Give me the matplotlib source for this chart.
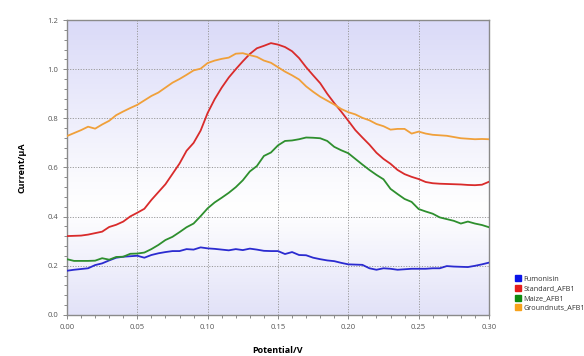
import numpy as np
import matplotlib
matplotlib.use("Agg")
import matplotlib.pyplot as plt
from matplotlib.lines import Line2D
from matplotlib.colors import LinearSegmentedColormap
from matplotlib.ticker import MultipleLocator

plt.rcParams['font.family'] = ['Open Sans', 'DejaVu Sans']

# Potential sweep (V), 5 mV steps
potential = np.round(np.arange(0, 0.3001, 0.005), 3)

fumonisin = [0.180, 0.184, 0.187, 0.190, 0.203, 0.210, 0.222, 0.233, 0.237, 0.239,
             0.241, 0.233, 0.244, 0.251, 0.256, 0.260, 0.260, 0.268, 0.266, 0.275,
             0.271, 0.269, 0.266, 0.263, 0.268, 0.264, 0.270, 0.266, 0.261, 0.260,
             0.260, 0.248, 0.256, 0.244, 0.243, 0.233, 0.227, 0.222, 0.219, 0.212,
             0.206, 0.205, 0.204, 0.190, 0.184, 0.190, 0.188, 0.184, 0.186, 0.188,
             0.188, 0.188, 0.190, 0.190, 0.199, 0.197, 0.196, 0.195, 0.200, 0.206,
             0.213]

standard_afb1 = [0.321, 0.322, 0.323, 0.327, 0.333, 0.339, 0.358, 0.367, 0.380, 0.401,
                 0.416, 0.432, 0.468, 0.500, 0.532, 0.574, 0.616, 0.668, 0.700, 0.750,
                 0.822, 0.878, 0.925, 0.966, 1.000, 1.032, 1.062, 1.085, 1.095, 1.106,
                 1.100, 1.090, 1.073, 1.045, 1.008, 0.975, 0.943, 0.900, 0.862, 0.827,
                 0.790, 0.752, 0.722, 0.693, 0.660, 0.635, 0.615, 0.590, 0.573, 0.562,
                 0.553, 0.541, 0.536, 0.534, 0.533, 0.532, 0.531, 0.529, 0.528, 0.530,
                 0.542]

maize_afb1 = [0.227, 0.220, 0.220, 0.220, 0.221, 0.231, 0.225, 0.236, 0.237, 0.249,
              0.250, 0.254, 0.268, 0.285, 0.305, 0.318, 0.337, 0.357, 0.372, 0.402,
              0.434, 0.458, 0.477, 0.497, 0.520, 0.548, 0.584, 0.606, 0.647, 0.661,
              0.690, 0.708, 0.710, 0.715, 0.722, 0.721, 0.719, 0.708, 0.684, 0.670,
              0.658, 0.635, 0.612, 0.590, 0.570, 0.552, 0.513, 0.492, 0.472, 0.460,
              0.431, 0.421, 0.412, 0.397, 0.390, 0.383, 0.372, 0.380, 0.372, 0.366,
              0.357]

groundnuts_afb1 = [0.728, 0.740, 0.752, 0.766, 0.758, 0.775, 0.790, 0.813, 0.828, 0.842,
                   0.855, 0.873, 0.891, 0.905, 0.925, 0.945, 0.960, 0.977, 0.995, 1.002,
                   1.025, 1.035, 1.042, 1.047, 1.063, 1.065, 1.057, 1.050, 1.035, 1.026,
                   1.008, 0.990, 0.975, 0.958, 0.930, 0.908, 0.888, 0.872, 0.856, 0.838,
                   0.825, 0.816, 0.802, 0.792, 0.777, 0.768, 0.754, 0.757, 0.757, 0.738,
                   0.746, 0.738, 0.733, 0.731, 0.729, 0.724, 0.719, 0.717, 0.715, 0.716,
                   0.715]

series_names = ['Fumonisin', 'Standard_AFB1', 'Maize_AFB1', 'Groundnuts_AFB1']
line_colors = ['#2b2bd0', '#d92b2b', '#2e8f2e', '#f0a03a']
legend_colors = ['#0a14e8', '#e41c1c', '#0f8a0f', '#f7a21b']

fig = plt.figure(figsize=(5.84, 3.56), dpi=100)
ax = fig.add_axes([0.1147, 0.1152, 0.7226, 0.8286])

# Soft lavender background fading to white in the lower middle
bg = LinearSegmentedColormap.from_list(
    'bg', [(0.0, '#e2e2f8'), (0.36, '#ffffff'), (0.45, '#fbfbfe'), (1.0, '#dadaf8')])
grad = np.linspace(0, 1, 256).reshape(-1, 1)
ax.imshow(grad, cmap=bg, aspect='auto', extent=[0, 1, 0, 1],
          transform=ax.transAxes, origin='lower', zorder=0)

for vals, c in zip([fumonisin, standard_afb1, maize_afb1, groundnuts_afb1], line_colors):
    ax.plot(potential, vals, color=c, lw=1.3, zorder=3, solid_joinstyle='round')

ax.set_xlim(0, 0.30)
ax.set_ylim(0, 1.2)
ax.xaxis.set_major_locator(MultipleLocator(0.05))
ax.xaxis.set_minor_locator(MultipleLocator(0.01))
ax.yaxis.set_major_locator(MultipleLocator(0.2))
ax.yaxis.set_minor_locator(MultipleLocator(0.04))
ax.xaxis.set_major_formatter(matplotlib.ticker.FormatStrFormatter('%.2f'))
ax.yaxis.set_major_formatter(matplotlib.ticker.FormatStrFormatter('%.1f'))

ax.grid(which='major', color='#9a9a9a', linestyle=(0, (1.2, 1.5)), lw=0.7, zorder=1)
ax.tick_params(which='both', direction='out', colors='#777777', labelcolor='#555555',
               labelsize=5.5, width=0.6)
ax.tick_params(which='major', length=3)
ax.tick_params(which='minor', length=2)
for s in ax.spines.values():
    s.set_color('#8a8a8a')
    s.set_linewidth(1.0)

ax.set_xlabel('Potential/V', fontsize=6.5, fontweight='bold', labelpad=11)
ax.set_ylabel('Current/µA', fontsize=6.5, fontweight='bold', labelpad=15)

handles = [Line2D([], [], marker='s', linestyle='none', markersize=5,
                  markerfacecolor=c, markeredgecolor=c) for c in legend_colors]
fig.legend(handles, series_names, loc='upper left', bbox_to_anchor=(0.877, 0.235),
           frameon=False, fontsize=5.2, handlelength=0.6, handletextpad=0.5,
           labelspacing=0.35, borderpad=0, labelcolor='#333333')

fig.savefig('out.png', dpi=100)
